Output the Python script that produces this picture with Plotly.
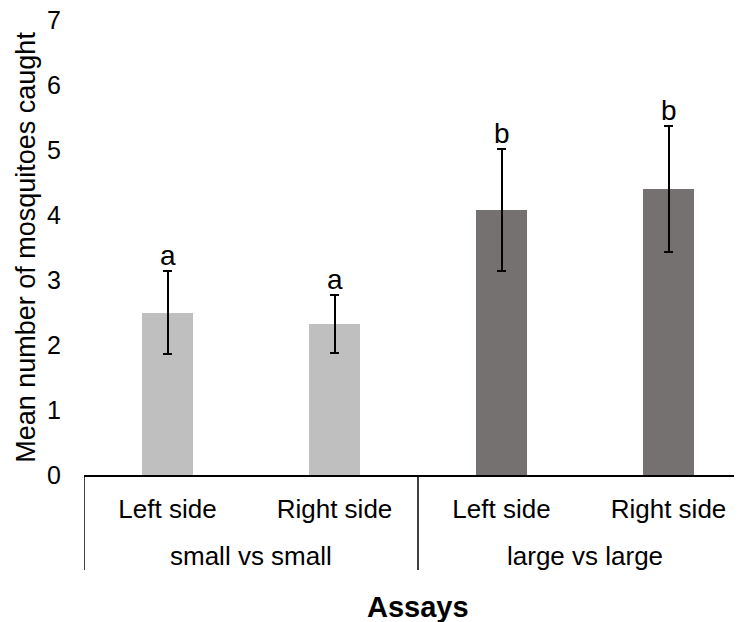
import plotly.graph_objects as go

groups = ["small vs small", "large vs large"]
sides = ["Left side", "Right side", "Left side", "Right side"]
group_of_bar = [0, 0, 1, 1]
means = [2.50, 2.32, 4.08, 4.40]
errors = [0.645, 0.45, 0.94, 0.97]
letters = ["a", "a", "b", "b"]
bar_colors = ["#BFBFBF", "#BFBFBF", "#767171", "#767171"]
y_ticks = [0, 1, 2, 3, 4, 5, 6, 7]

FONT = "Liberation Sans, Arial, sans-serif"
xs = list(range(len(sides)))

fig = go.Figure()
fig.add_trace(go.Bar(
    x=xs, y=means, width=0.31,
    marker=dict(color=bar_colors, line=dict(width=0)),
    error_y=dict(type="data", array=errors, visible=True,
                 color="black", thickness=2, width=4.5),
    showlegend=False, hoverinfo="skip",
))

for xi, m, e, l in zip(xs, means, errors, letters):
    fig.add_annotation(x=xi, y=m + e, text=l, showarrow=False,
                       yanchor="bottom", yshift=-2,
                       font=dict(family=FONT, size=28, color="black"))

# group labels
for gi, g in enumerate(groups):
    members = [x for x, gg in zip(xs, group_of_bar) if gg == gi]
    center = (members[0] + members[-1]) / 2
    fig.add_annotation(x=center, xref="x", y=0, yref="paper", yshift=-81,
                       yanchor="middle", text=g, showarrow=False,
                       font=dict(family=FONT, size=26, color="black"))

# dividers
bounds = [-0.5] + [xs[i] + 0.5 for i in range(len(xs) - 1)
                   if group_of_bar[i] != group_of_bar[i + 1]] + [xs[-1] + 0.5]
for b in bounds:
    fig.add_shape(type="line", xref="x", yref="paper", x0=b, x1=b,
                  y0=0, y1=-95 / 455, line=dict(color="black", width=1.5),
                  layer="above")

# x axis title
fig.add_annotation(x=(xs[0] + xs[-1]) / 2, xref="x", y=0, yref="paper",
                   yshift=-132, yanchor="middle", text="<b>Assays</b>",
                   showarrow=False,
                   font=dict(family=FONT, size=29, color="black"))

# page body has an 8px margin: shrink the figure to compensate
fig.update_layout(
    width=734, height=614,
    margin=dict(l=76, r=0, t=12, b=147),
    paper_bgcolor="white", plot_bgcolor="white",
    font=dict(family=FONT, color="black"),
    bargap=0,
)
fig.update_xaxes(
    range=[-0.5, -0.5 + 658 / 167],
    tickvals=xs, ticktext=sides,
    tickfont=dict(family=FONT, size=26, color="black"),
    showline=True, linecolor="black", linewidth=1.5,
    ticks="", showgrid=False, zeroline=False,
    ticklabelstandoff=10, automargin=False,
)
fig.update_yaxes(
    range=[0, 7], tickvals=y_ticks,
    tickfont=dict(family=FONT, size=25, color="black"),
    showline=False, showgrid=False, zeroline=False, ticks="",
    ticklabelstandoff=22, automargin=False, ticklabeloverflow="allow",
    title=dict(text="Mean number of mosquitoes caught",
               font=dict(family=FONT, size=27, color="black"), standoff=3),
)

fig.write_html("out.html")
